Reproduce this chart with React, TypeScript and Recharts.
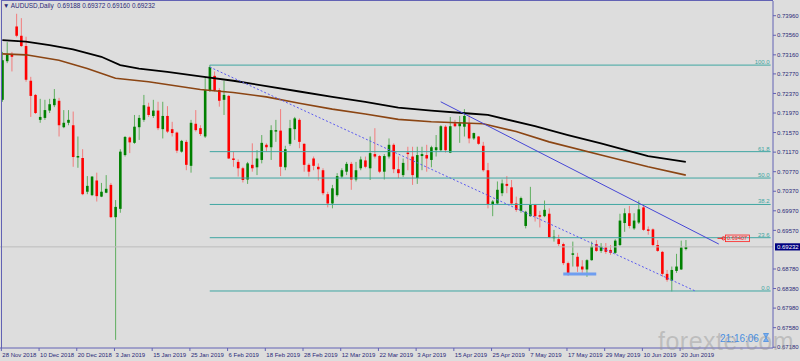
import { ComposedChart, Bar, Line, XAxis, YAxis, ReferenceLine, ReferenceDot } from 'recharts'

const FONT = '"Liberation Sans", Arial, sans-serif'
const AXIS = '#6262b4'
const TXT = '#2a2a78'
const TEAL = '#3fa6a2'

// 28 Nov 2018 .. 21 Jun 2019, one value per daily bar
const opens = [
  0.7224, 0.7303, 0.7316, 0.7374, 0.7355, 0.7334, 0.7263, 0.7234, 0.7183, 0.7187, 0.7202, 0.7213, 0.7222, 0.7168, 0.7177, 0.7172,
  0.7106, 0.7105, 0.7036, 0.7029, 0.7059, 0.7026, 0.7034, 0.7050, 0.6984, 0.7001, 0.7111, 0.7147, 0.7136, 0.7168, 0.7183, 0.7210,
  0.7191, 0.7202, 0.7164, 0.7191, 0.7164, 0.7157, 0.7118, 0.7138, 0.7089, 0.7175, 0.7166, 0.7149, 0.7244, 0.7273, 0.7244, 0.7224,
  0.7232, 0.7104, 0.7097, 0.7084, 0.7061, 0.7091, 0.7086, 0.7101, 0.7132, 0.7127, 0.7159, 0.7161, 0.7086, 0.7134, 0.7164, 0.7183,
  0.7134, 0.7091, 0.7104, 0.7087, 0.7080, 0.7031, 0.7012, 0.7029, 0.7067, 0.7077, 0.7093, 0.7061, 0.7084, 0.7100, 0.7084, 0.7113,
  0.7109, 0.7077, 0.7108, 0.7132, 0.7082, 0.7070, 0.7116, 0.7108, 0.7064, 0.7109, 0.7111, 0.7101, 0.7121, 0.7121, 0.7169, 0.7116,
  0.7176, 0.7170, 0.7169, 0.7176, 0.7145, 0.7149, 0.7130, 0.7080, 0.7009, 0.7012, 0.7033, 0.7052, 0.7045, 0.7012, 0.6997, 0.6966,
  0.6986, 0.7009, 0.6988, 0.6986, 0.6991, 0.6941, 0.6939, 0.6929, 0.6890, 0.6907, 0.6903, 0.6883, 0.6877, 0.6896, 0.6929, 0.6915,
  0.6922, 0.6917, 0.6911, 0.6927, 0.6972, 0.6992, 0.6961, 0.6973, 0.7004, 0.6959, 0.6959, 0.6927, 0.6913, 0.6868, 0.6854, 0.6874,
  0.6877, 0.69188,
]
const highs = [
  0.7322, 0.7342, 0.7322, 0.7400, 0.7391, 0.7353, 0.7271, 0.7236, 0.7226, 0.7224, 0.7226, 0.7246, 0.7228, 0.7203, 0.7203, 0.7200,
  0.7149, 0.7123, 0.7068, 0.7068, 0.7075, 0.7054, 0.7070, 0.7054, 0.7019, 0.7123, 0.7150, 0.7149, 0.7193, 0.7193, 0.7234, 0.7218,
  0.7224, 0.7220, 0.7220, 0.7211, 0.7179, 0.7159, 0.7142, 0.7142, 0.7183, 0.7203, 0.7172, 0.7269, 0.7295, 0.7282, 0.7248, 0.7263,
  0.7234, 0.7118, 0.7102, 0.7087, 0.7097, 0.7135, 0.7121, 0.7152, 0.7135, 0.7172, 0.7183, 0.7205, 0.7130, 0.7183, 0.7189, 0.7186,
  0.7135, 0.7094, 0.7108, 0.7094, 0.7084, 0.7036, 0.7050, 0.7074, 0.7084, 0.7097, 0.7097, 0.7097, 0.7108, 0.7108, 0.7149, 0.7166,
  0.7111, 0.7113, 0.7145, 0.7135, 0.7108, 0.7104, 0.7128, 0.7128, 0.7128, 0.7128, 0.7132, 0.7130, 0.7152, 0.7172, 0.7172, 0.7189,
  0.7183, 0.7191, 0.7205, 0.7193, 0.7157, 0.7150, 0.7138, 0.7095, 0.7019, 0.7057, 0.7061, 0.7068, 0.7060, 0.7026, 0.7026, 0.6997,
  0.7046, 0.7011, 0.6997, 0.7018, 0.7002, 0.6958, 0.6948, 0.6932, 0.6893, 0.6934, 0.6911, 0.6896, 0.6898, 0.6934, 0.6937, 0.6931,
  0.6931, 0.6927, 0.6939, 0.6991, 0.7002, 0.7007, 0.6992, 0.7018, 0.7007, 0.6965, 0.6961, 0.6937, 0.6915, 0.6876, 0.6883, 0.6909,
  0.6936, 0.69372,
]
const lows = [
  0.7220, 0.7299, 0.7282, 0.7352, 0.7332, 0.7261, 0.7189, 0.7195, 0.7177, 0.7183, 0.7197, 0.7209, 0.7149, 0.7166, 0.7172, 0.7087,
  0.7085, 0.7029, 0.7031, 0.7027, 0.7016, 0.7025, 0.7033, 0.6982, 0.6733, 0.6993, 0.7108, 0.7115, 0.7134, 0.7142, 0.7179, 0.7189,
  0.7187, 0.7162, 0.7145, 0.7156, 0.7149, 0.7115, 0.7116, 0.7080, 0.7075, 0.7159, 0.7150, 0.7146, 0.7240, 0.7241, 0.7210, 0.7193,
  0.7103, 0.7087, 0.7067, 0.7055, 0.7052, 0.7077, 0.7070, 0.7094, 0.7118, 0.7101, 0.7138, 0.7068, 0.7080, 0.7130, 0.7142, 0.7125,
  0.7077, 0.7067, 0.7080, 0.7059, 0.7029, 0.7004, 0.7002, 0.7026, 0.7064, 0.7070, 0.7040, 0.7057, 0.7080, 0.7084, 0.7060, 0.7104,
  0.7074, 0.7061, 0.7104, 0.7074, 0.7064, 0.7066, 0.7080, 0.7050, 0.7052, 0.7080, 0.7077, 0.7086, 0.7108, 0.7118, 0.7116, 0.7115,
  0.7168, 0.7136, 0.7149, 0.7135, 0.7142, 0.7132, 0.7077, 0.7002, 0.6986, 0.7009, 0.7027, 0.7033, 0.7009, 0.6995, 0.6993, 0.6961,
  0.6985, 0.6975, 0.6963, 0.6984, 0.6941, 0.6934, 0.6925, 0.6886, 0.6864, 0.6883, 0.6872, 0.6870, 0.6862, 0.6895, 0.6913, 0.6911,
  0.6909, 0.6907, 0.6909, 0.6925, 0.6954, 0.6961, 0.6958, 0.6970, 0.6956, 0.6948, 0.6924, 0.6913, 0.6862, 0.6852, 0.6832, 0.6870,
  0.6876, 0.6916,
]
const closes = [
  0.7305, 0.7316, 0.7312, 0.7355, 0.7334, 0.7265, 0.7232, 0.7197, 0.7189, 0.7203, 0.7215, 0.7226, 0.7172, 0.7177, 0.7183, 0.7107,
  0.7109, 0.7031, 0.7048, 0.7067, 0.7027, 0.7036, 0.7042, 0.6984, 0.7005, 0.7118, 0.7148, 0.7137, 0.7169, 0.7187, 0.7213, 0.7193,
  0.7202, 0.7166, 0.7191, 0.7159, 0.7156, 0.7120, 0.7140, 0.7091, 0.7177, 0.7162, 0.7154, 0.7244, 0.7291, 0.7244, 0.7222, 0.7234,
  0.7104, 0.7101, 0.7084, 0.7060, 0.7094, 0.7084, 0.7104, 0.7136, 0.7127, 0.7162, 0.7162, 0.7087, 0.7123, 0.7166, 0.7186, 0.7138,
  0.7091, 0.7077, 0.7089, 0.7082, 0.7033, 0.7012, 0.7043, 0.7068, 0.7080, 0.7093, 0.7061, 0.7080, 0.7102, 0.7087, 0.7115, 0.7108,
  0.7077, 0.7109, 0.7132, 0.7082, 0.7074, 0.7095, 0.7113, 0.7070, 0.7111, 0.7113, 0.7104, 0.7127, 0.7127, 0.7170, 0.7121, 0.7170,
  0.7170, 0.7176, 0.7191, 0.7145, 0.7156, 0.7134, 0.7080, 0.7011, 0.7016, 0.7040, 0.7053, 0.7048, 0.7012, 0.6999, 0.7023, 0.6995,
  0.7009, 0.6986, 0.6985, 0.6999, 0.6943, 0.6944, 0.6929, 0.6890, 0.6866, 0.6910, 0.6883, 0.6877, 0.6896, 0.6924, 0.6915, 0.6924,
  0.6913, 0.6911, 0.6936, 0.6977, 0.6992, 0.6966, 0.6977, 0.7000, 0.6958, 0.6956, 0.6927, 0.6915, 0.6868, 0.6856, 0.6876, 0.6883,
  0.6922, 0.69232,
]

// moving averages, read at a handful of bars
const slowBars = [0, 5, 10, 15, 21, 25, 29, 35, 42, 49, 56, 63, 70, 77, 84, 91, 99, 103, 113, 120, 127, 137, 145]
const slowVals = [0.7346, 0.7343, 0.7336, 0.7327, 0.7312, 0.7295, 0.7288, 0.7281, 0.7272, 0.7263, 0.7252, 0.7241, 0.7230, 0.7220,
  0.7208, 0.7202, 0.7196, 0.7193, 0.7170, 0.7152, 0.7135, 0.7109, 0.7097]
const fastBars = [0, 5, 12, 18, 24, 31, 42, 49, 56, 63, 70, 77, 84, 91, 102, 109, 116, 127, 137, 145]
const fastVals = [0.7318, 0.7316, 0.7305, 0.7288, 0.7268, 0.7261, 0.7245, 0.7239, 0.7230, 0.7217, 0.7205, 0.7195, 0.7184, 0.7179,
  0.7175, 0.7159, 0.7138, 0.7111, 0.7087, 0.7070]

const fibNames = ['100.0', '61.8', '50.0', '38.2', '23.6', '0.0']
const fibPrices = [0.7295, 0.7118, 0.7064, 0.7010, 0.6942, 0.6833]

const tickBars = [0, 8, 16, 24, 32, 40, 48, 56, 64, 72, 80, 88, 96, 104, 112, 120, 128, 136, 144]
const dateLabels = ['28 Nov 2018', '10 Dec 2018', '20 Dec 2018', '3 Jan 2019', '15 Jan 2019', '25 Jan 2019', '6 Feb 2019',
  '18 Feb 2019', '28 Feb 2019', '12 Mar 2019', '22 Mar 2019', '3 Apr 2019', '15 Apr 2019', '25 Apr 2019', '7 May 2019',
  '17 May 2019', '29 May 2019', '10 Jun 2019', '20 Jun 2019']
const priceTicks = [0.7396, 0.7356, 0.7316, 0.7277, 0.7237, 0.7197, 0.7157, 0.7117, 0.7077, 0.7037, 0.6997, 0.6957,
  0.69232, 0.6878, 0.6838, 0.6798, 0.6758, 0.6718]
const LAST = 0.69232
const SLOTS = 164

interface Row { i: number; o: number | null; h: number | null; l: number | null; c: number | null; maS: number | null; maF: number | null }
const rows: Row[] = Array.from({ length: SLOTS }, (_, i) => ({
  i, o: opens[i] ?? null, h: highs[i] ?? null, l: lows[i] ?? null, c: closes[i] ?? null, maS: null, maF: null,
}))
slowBars.forEach((b, k) => { rows[b].maS = slowVals[k] })
fastBars.forEach((b, k) => { rows[b].maF = fastVals[k] })

function Candle(p: any) {
  const d: Row = p.payload
  if (!d || d.o == null || d.h == null || d.l == null || d.c == null) return null
  const top = Math.min(p.y, p.y + p.height)
  const span = Math.abs(p.height)
  const k = d.h > d.l ? span / (d.h - d.l) : 0
  const cx = p.x + p.width / 2
  const yo = top + (d.h - d.o) * k
  const yc = top + (d.h - d.c) * k
  const up = d.c >= d.o
  return (
    <g>
      <line x1={cx} x2={cx} y1={top} y2={top + span} stroke={up ? '#5fae5f' : '#f27c7c'} strokeWidth={1} />
      <rect x={cx - 1.3} y={Math.min(yo, yc)} width={2.6} height={Math.max(Math.abs(yo - yc), 1)} fill={up ? '#008000' : '#ff0000'} />
    </g>
  )
}

function XTick({ x, y, payload }: any) {
  const k = tickBars.indexOf(payload.value)
  return (
    <g>
      <line x1={x - 1} x2={x - 1} y1={y} y2={y + 3} stroke={AXIS} />
      <text x={x} y={y + 8.5} fontSize={6} fill={TXT} fontFamily={FONT}>{dateLabels[k]}</text>
    </g>
  )
}

function YTick({ x, y, payload }: any) {
  const v = payload.value
  if (v === LAST) return (
    <g>
      <rect x={x + 2} y={y - 3.6} width={25} height={7.2} fill="#000080" />
      <text x={x + 4} y={y + 2.2} fontSize={6} fill="#fff" fontFamily={FONT}>{v.toFixed(5)}</text>
    </g>
  )
  return (
    <g>
      <line x1={x} x2={x + 3} y1={y} y2={y} stroke={AXIS} />
      <text x={x + 4} y={y + 2.2} fontSize={6} fill={TXT} fontFamily={FONT}>{v.toFixed(5)}</text>
    </g>
  )
}

function RedTag({ cx, cy }: any) {
  return (
    <g>
      <line x1={cx - 6} x2={cx} y1={cy} y2={cy} stroke="#ff2020" />
      <circle cx={cx} cy={cy} r={1.6} fill="none" stroke="#ff2020" />
      <rect x={cx + 2} y={cy - 3.3} width={24} height={6.6} fill="none" stroke="#ff2020" strokeWidth={0.8} />
      <text x={cx + 3.5} y={cy + 2} fontSize={5.6} fill="#ff2020" fontFamily={FONT}>0.69407</text>
    </g>
  )
}

export default function App() {
  return (
    <div style={{ position: 'relative', width: 800, height: 361, background: '#dddddd', overflow: 'hidden', fontFamily: FONT }}>
      <style>{'body{margin:0}'}</style>
      <ComposedChart width={800} height={361} data={rows} margin={{ top: 1, right: 0, bottom: 0, left: 0 }} barCategoryGap={0}>
        <XAxis dataKey="i" type="category" ticks={tickBars} interval={0} height={13} tickSize={0} tickMargin={0}
          tickLine={false} axisLine={{ stroke: AXIS }} tick={<XTick />} />
        <YAxis orientation="right" width={27} domain={[0.67164, 0.74261]} allowDataOverflow ticks={priceTicks} interval={0}
          tickSize={0} tickMargin={0} tickLine={false} axisLine={{ stroke: AXIS }} tick={<YTick />} />
        <ReferenceLine y={LAST} stroke="#bcbcbc" strokeWidth={1} />
        {fibPrices.map((p, k) => (
          <ReferenceLine key={k} segment={[{ x: 44, y: p }, { x: SLOTS - 1, y: p }]} stroke={TEAL} strokeWidth={1}
            label={{ value: fibNames[k], position: 'insideBottomRight', fill: TEAL, fontSize: 6, offset: 1 }} />
        ))}
        <Bar dataKey={(r: Row) => (r.o == null ? null : [r.l, r.h])} shape={(p: any) => <Candle {...p} />} isAnimationActive={false} />
        <Line dataKey="maF" stroke="#8b4513" strokeWidth={1.6} dot={false} connectNulls isAnimationActive={false} />
        <Line dataKey="maS" stroke="#000000" strokeWidth={1.8} dot={false} connectNulls isAnimationActive={false} />
        <ReferenceLine segment={[{ x: 44, y: 0.7291 }, { x: 147, y: 0.6833 }]} stroke="#5a5af0" strokeDasharray="2 2" />
        <ReferenceLine segment={[{ x: 93, y: 0.7220 }, { x: 152, y: 0.6929 }]} stroke="#4646d6" />
        <ReferenceLine segment={[{ x: 119, y: 0.6868 }, { x: 126, y: 0.6868 }]} stroke="#6f9ef0" strokeWidth={3} />
        <ReferenceDot x={153} y={0.69407} shape={(p: any) => <RedTag {...p} />} />
      </ComposedChart>
      <div style={{ position: 'absolute', left: 1, top: 0, width: 772, height: 348, borderLeft: `1px solid ${AXIS}`, borderTop: `1px solid ${AXIS}`, boxSizing: 'border-box', pointerEvents: 'none' }} />
      <div style={{ position: 'absolute', left: 3, top: 2, fontSize: 6.4, color: TXT, whiteSpace: 'nowrap' }}>
        ▼ AUDUSD,Daily&nbsp; 0.69188 0.69372 0.69160 0.69232
      </div>
      <div style={{ position: 'absolute', left: 658, top: 327, fontSize: 25, color: 'rgba(150,150,150,0.45)', whiteSpace: 'nowrap', letterSpacing: 0.5 }}>
        forexte.com
      </div>
      <div style={{ position: 'absolute', left: 720, top: 333, fontSize: 10, color: '#4a8fe0', whiteSpace: 'nowrap' }}>21:16:06</div>
      <svg style={{ position: 'absolute', left: 763, top: 333 }} width={6} height={9}>
        <path d="M0.5 0.5 H5.5 L3 4.5 L5.5 8.5 H0.5 L3 4.5 Z" fill="#7fb0ee" stroke="#4a8fe0" strokeWidth={0.8} />
      </svg>
    </div>
  )
}
